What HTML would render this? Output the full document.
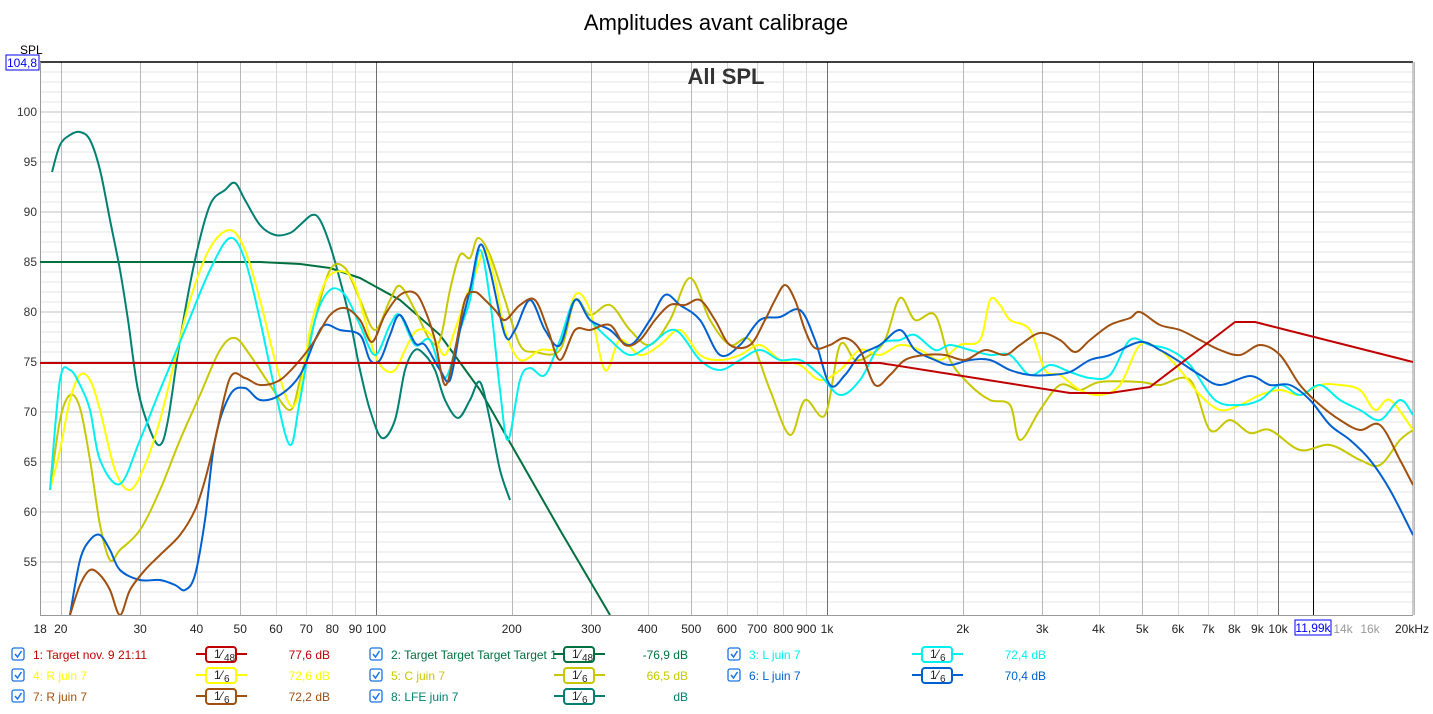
<!DOCTYPE html>
<html><head><meta charset="utf-8"><style>
body{margin:0;background:#fff;font-family:"Liberation Sans",sans-serif}
svg text{font-family:"Liberation Sans",sans-serif}
</style></head><body>
<svg id="s" width="1433" height="709" xmlns="http://www.w3.org/2000/svg">
<rect width="1433" height="709" fill="#fff"/>
<text x="716" y="30" font-size="22" text-anchor="middle" fill="#000">Amplitudes avant calibrage</text>
<g id="grid"></g>
<defs><clipPath id="c"><rect x="40" y="62" width="1373" height="553"/></clipPath></defs>
<g id="curves" clip-path="url(#c)" fill="none" stroke-width="2" stroke-linejoin="round"></g>
<text x="726" y="84" font-size="22" font-weight="bold" text-anchor="middle" fill="#333">All SPL</text>
<text x="20" y="54" font-size="12" fill="#000">SPL</text>
<rect x="6" y="55" width="33" height="15" fill="#fff" stroke="#0000ff"/>
<text x="22" y="67" font-size="12" text-anchor="middle" fill="#0000ff">104,8</text>
<g id="legend" font-size="12"></g>
</svg>
<script>
const NS="http://www.w3.org/2000/svg";
function el(p,t,a,txt){const e=document.createElementNS(NS,t);for(const k in a)e.setAttribute(k,a[k]);if(txt!=null)e.textContent=txt;p.appendChild(e);return e;}
const X=f=>376+451*(Math.log10(f)-2);
const g=document.getElementById('grid');
for(let d=51;d<=104;d++){const y=112+(100-d)*10;el(g,'line',{x1:40,x2:1413,y1:y,y2:y,stroke:d%5==0?'#c0c0c0':'#e6e6e6','stroke-width':1});}
const fr=[];for(let dec of [10,100,1000,10000])for(let m=1;m<=9;m++){const f=m*dec;if(f>=20&&f<=20000)fr.push(f);}
fr.forEach(f=>{const x=Math.round(X(f))+.5;let c=(f==100||f==1000||f==10000)?'#707070':([20,30,40,50,200,300,500,2000,3000,5000,20000].includes(f)?'#b8b8b8':'#d8d8d8');el(g,'line',{x1:x,x2:x,y1:62,y2:615,stroke:c});});
el(g,'line',{x1:40,x2:1413,y1:62,y2:62,stroke:'#000','stroke-width':1.5});
el(g,'line',{x1:40.5,x2:40.5,y1:62,y2:615,stroke:'#999'});
el(g,'line',{x1:1413,x2:1413,y1:62,y2:615,stroke:'#999'});
el(g,'line',{x1:40,x2:1413,y1:615.5,y2:615.5,stroke:'#999'});
el(g,'line',{x1:1313.5,x2:1313.5,y1:62,y2:615,stroke:'#000'});
for(let d=55;d<=100;d+=5)el(g,'text',{x:37,y:116+(100-d)*10,'font-size':12,'text-anchor':'end',fill:'#333'},d);
const xl=[[18,'18'],[20,'20'],[30,'30'],[40,'40'],[50,'50'],[60,'60'],[70,'70'],[80,'80'],[90,'90'],[100,'100'],[200,'200'],[300,'300'],[400,'400'],[500,'500'],[600,'600'],[700,'700'],[800,'800'],[900,'900'],[1000,'1k'],[2000,'2k'],[3000,'3k'],[4000,'4k'],[5000,'5k'],[6000,'6k'],[7000,'7k'],[8000,'8k'],[9000,'9k'],[10000,'10k']];
xl.forEach(([f,t])=>el(g,'text',{x:X(f),y:633,'font-size':12,'text-anchor':'middle',fill:'#222'},t));
el(g,'text',{x:1343,y:633,'font-size':12,'text-anchor':'middle',fill:'#999'},'14k');
el(g,'text',{x:1370,y:633,'font-size':12,'text-anchor':'middle',fill:'#999'},'16k');
el(g,'text',{x:1412,y:633,'font-size':12,'text-anchor':'middle',fill:'#222'},'20kHz');
el(g,'rect',{x:1295,y:620,width:36,height:15,fill:'#fff',stroke:'#0000ff'});
el(g,'text',{x:1313,y:632,'font-size':12,'text-anchor':'middle',fill:'#0000ff'},'11,99k');
const C={red:'#c00000',dg:'#007040',teal:'#008070',yel:'#ffff00',gold:'#c8c800',cyan:'#00f0f0',blue:'#0060d0',brown:'#a05010'};
const curves=[
[C.dg,"40,262 260,262 300,264 330,268 360,278 400,300 440,335 480,390 520,460 560,530 610,615",0],
[C.teal,"52,172 60,145 70,135 80,132 90,140 100,170 110,220 120,270 128,320 138,390 150,430 160,445 168,420 180,340 195,260 210,205 225,190 235,183 245,200 260,225 275,235 290,233 300,225 312,215 320,220 330,245 340,280 350,320 360,370 370,410 382,438 395,420 405,370 415,350 425,355 435,370 445,400 458,418 470,400 480,382 490,420 500,470 510,500",1],
[C.gold,"50,490 60,420 70,395 80,408 90,460 100,525 110,560 120,550 140,530 160,490 180,440 200,395 220,350 235,338 250,355 270,385 290,410 300,380 315,320 330,270 345,268 360,300 375,330 390,300 400,286 415,310 430,340 440,340 450,290 460,255 470,258 478,238 490,255 505,300 520,345 535,352 560,350 575,300 590,315 610,305 630,330 650,345 670,320 690,278 710,320 730,345 750,340 770,390 790,435 805,400 825,415 840,345 855,360 870,355 885,340 900,298 915,320 935,315 950,360 970,385 990,400 1010,405 1020,440 1040,410 1060,385 1080,390 1100,382 1140,382 1160,385 1190,380 1210,430 1230,420 1250,433 1270,430 1300,450 1330,445 1360,460 1380,465 1400,440 1413,430",1],
[C.yel,"50,490 60,450 70,400 80,375 90,380 100,410 115,470 130,490 145,465 160,420 175,360 190,300 210,248 230,230 245,250 260,300 275,360 290,405 300,390 310,330 320,295 330,275 345,272 355,285 365,320 375,355 385,370 395,370 405,350 415,332 425,330 435,340 445,355 455,330 465,300 475,275 485,250 495,280 505,330 520,360 540,350 560,345 575,295 590,310 605,370 620,340 640,355 660,345 680,330 700,355 720,360 740,355 760,345 780,360 800,365 820,380 840,370 860,350 880,355 900,345 920,350 940,360 960,345 980,340 990,300 1000,305 1010,320 1030,330 1045,370 1060,375 1080,390 1100,395 1120,385 1140,345 1160,350 1180,370 1200,395 1220,410 1240,405 1260,395 1280,390 1300,395 1320,385 1340,385 1360,390 1375,410 1390,400 1413,430",1],
[C.cyan,"50,490 60,380 70,370 80,385 90,410 100,460 120,484 140,440 160,390 185,330 210,270 230,238 245,260 260,320 275,390 290,445 300,400 315,320 330,290 345,295 360,325 375,355 390,325 400,315 415,345 430,340 445,378 460,330 470,300 480,250 490,300 500,390 508,440 520,380 530,368 545,375 560,340 575,300 590,320 610,340 630,355 650,345 675,330 700,360 720,370 740,360 760,350 780,360 800,360 820,375 840,395 860,380 880,345 900,340 915,335 935,350 950,345 970,350 990,355 1010,355 1030,375 1050,365 1070,372 1090,378 1110,375 1130,340 1150,345 1170,350 1190,365 1215,400 1240,405 1260,400 1280,385 1300,395 1320,385 1340,400 1360,410 1380,420 1400,400 1413,415",1],
[C.blue,"70,615 80,560 90,540 100,535 110,550 120,570 140,580 160,580 175,585 185,590 195,575 205,520 215,440 230,395 245,388 260,400 280,395 300,375 315,340 325,325 340,330 360,335 370,360 380,360 390,335 400,315 415,343 425,345 440,370 450,380 460,330 470,290 480,245 490,270 505,335 515,330 530,300 545,330 560,345 575,300 590,320 610,330 630,345 650,320 665,295 680,305 700,320 720,355 740,345 760,320 780,317 800,310 815,340 830,385 845,375 860,355 880,345 900,330 915,350 935,360 950,365 970,360 990,360 1010,370 1030,375 1050,375 1070,372 1090,360 1110,355 1140,342 1160,350 1180,362 1200,375 1220,385 1250,376 1270,385 1290,385 1310,400 1330,425 1350,440 1370,460 1390,490 1413,535",1],
[C.brown,"70,615 80,585 90,570 100,575 110,590 120,615 130,590 145,570 160,555 180,535 195,510 205,480 215,440 230,378 245,378 260,385 280,380 300,360 315,340 330,315 345,308 360,320 372,342 385,315 400,295 415,293 425,310 435,340 445,385 455,350 465,300 475,292 485,300 495,310 505,320 520,305 535,300 548,330 560,360 575,330 590,330 610,325 625,345 640,340 655,320 670,305 685,305 700,300 715,320 730,345 750,345 765,320 775,300 785,285 795,300 805,330 815,348 830,345 845,338 860,350 875,385 890,375 905,360 925,355 945,355 965,360 985,350 1005,355 1020,345 1040,333 1060,340 1075,352 1090,340 1110,325 1130,318 1140,312 1160,325 1180,330 1200,340 1220,350 1240,355 1260,345 1280,355 1300,385 1320,405 1340,420 1360,430 1380,425 1400,460 1413,485",1],
[C.red,"40,363 880,363 1070,393 1110,393 1150,387 1235,322 1255,322 1413,362",0]
];
function smooth(p){const P=p.trim().split(/\s+/).map(s=>s.split(',').map(Number));let d=`M${P[0][0]},${P[0][1]}`;
for(let i=0;i<P.length-1;i++){const p0=P[i-1]||P[i],p1=P[i],p2=P[i+1],p3=P[i+2]||p2;
d+=` C${p1[0]+(p2[0]-p0[0])/6},${p1[1]+(p2[1]-p0[1])/6} ${p2[0]-(p3[0]-p1[0])/6},${p2[1]-(p3[1]-p1[1])/6} ${p2[0]},${p2[1]}`;}return d;}
const cg=document.getElementById('curves');
curves.forEach(([c,p,s])=>{if(s)el(cg,'path',{d:smooth(p),stroke:c});else el(cg,'polyline',{points:p,stroke:c});});
const lg=document.getElementById('legend');
const items=[
[0,0,'1: Target nov. 9 21:11',C.red,'48','77,6 dB',C.red],
[1,0,'2: Target Target Target Target 1',C.dg,'48','-76,9 dB',C.dg],
[2,0,'3: L juin 7',C.cyan,'6','72,4 dB',C.cyan],
[0,1,'4: R juin 7',C.yel,'6','72,6 dB',C.yel],
[1,1,'5: C juin 7',C.gold,'6','66,5 dB',C.gold],
[2,1,'6: L juin 7',C.blue,'6','70,4 dB',C.blue],
[0,2,'7: R juin 7',C.brown,'6','72,2 dB',C.brown],
[1,2,'8: LFE juin 7',C.teal,'6','dB',C.teal]];
items.forEach(([c,r,t,col,den,v,vc])=>{const ox=12+c*358,oy=648+r*21;
el(lg,'rect',{x:ox,y:oy,width:12,height:12,rx:2,fill:'#fff',stroke:'#1a73e8','stroke-width':1.3});
el(lg,'polyline',{points:`${ox+3},${oy+6} ${ox+5.5},${oy+9} ${ox+9.5},${oy+3}`,fill:'none',stroke:'#1a73e8','stroke-width':1.5});
el(lg,'text',{x:ox+21,y:oy+11,fill:col},t);
el(lg,'line',{x1:ox+184,x2:ox+235,y1:oy+6,y2:oy+6,stroke:col,'stroke-width':2});
el(lg,'rect',{x:ox+194,y:oy-1,width:30,height:15,rx:3,fill:'#fff',stroke:col,'stroke-width':2});
el(lg,'text',{x:ox+202,y:oy+10,fill:'#222','font-size':12},'1⁄');
el(lg,'text',{x:ox+212,y:oy+13,fill:'#222','font-size':10},den);
el(lg,'text',{x:ox+318,y:oy+11,fill:vc,'text-anchor':'end'},v);});
</script>
</body></html>
